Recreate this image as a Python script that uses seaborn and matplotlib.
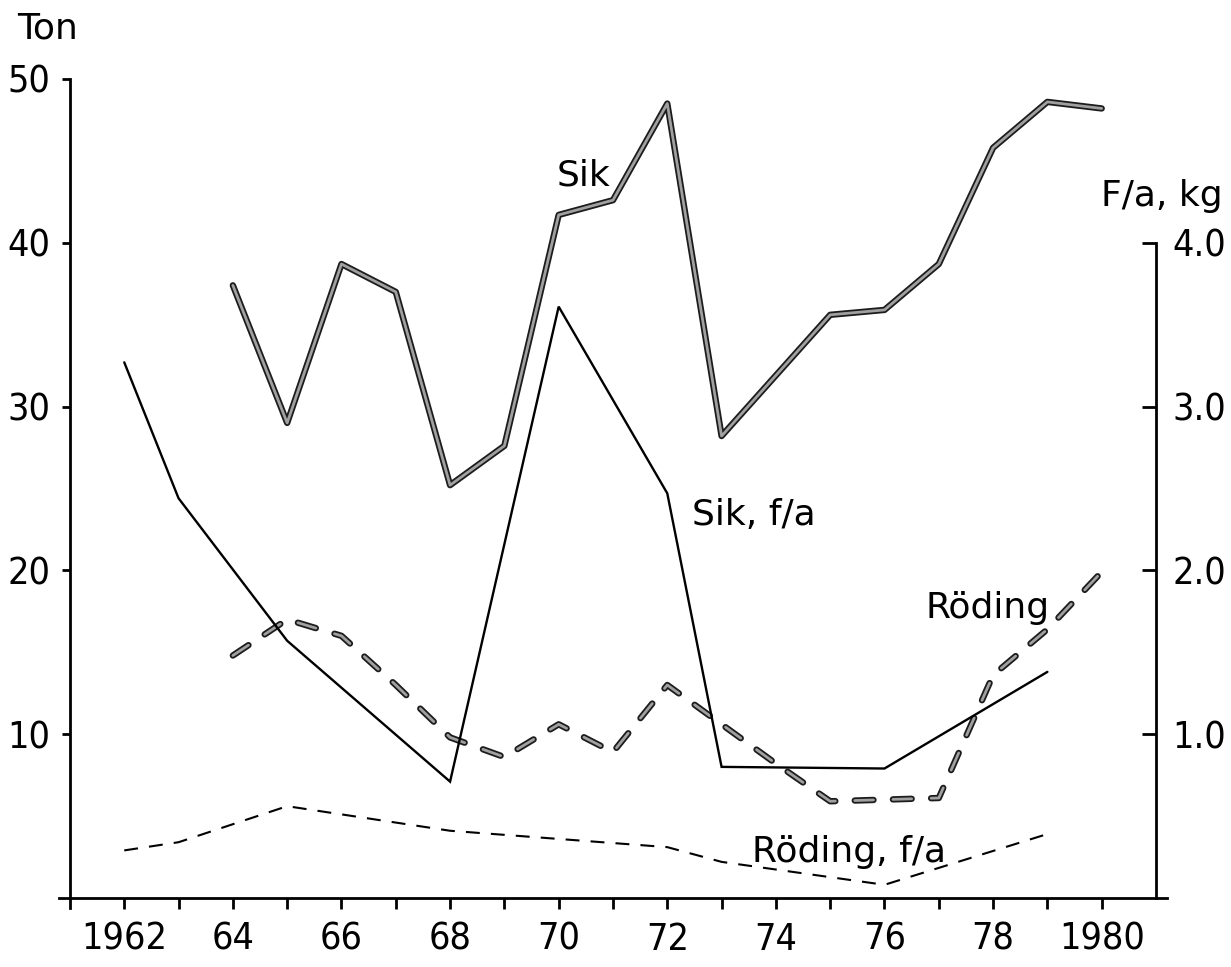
import matplotlib
matplotlib.use("Agg")
import matplotlib.pyplot as plt
import matplotlib.patheffects as pe
import pandas as pd
import seaborn as sns

# Annual catch (tonnes)
sik_years = [1964, 1965, 1966, 1967, 1968, 1969, 1970, 1971, 1972,
             1973, 1974, 1975, 1976, 1977, 1978, 1979, 1980]
sik_ton = [37.4, 29.0, 38.7, 37.0, 25.2, 27.6, 41.7, 42.6, 48.5,
           28.2, 31.9, 35.6, 35.9, 38.7, 45.8, 48.6, 48.2]

roding_years = [1964, 1965, 1966, 1967, 1968, 1969, 1970, 1971, 1972,
                1973, 1974, 1975, 1976, 1977, 1978, 1979, 1980]
roding_ton = [14.8, 17.0, 16.0, 13.0, 9.8, 8.6, 10.6, 8.9, 13.0,
              10.6, 8.2, 5.9, 6.0, 6.1, 13.6, 16.4, 19.9]

# Catch per fisherman-year (kg), survey years only
fa_years = [1962, 1963, 1965, 1968, 1970, 1972, 1973, 1976, 1979]
sik_fa_kg = [3.27, 2.44, 1.57, 0.71, 3.61, 2.47, 0.80, 0.79, 1.38]
roding_fa_kg = [0.29, 0.34, 0.56, 0.41, 0.36, 0.31, 0.22, 0.08, 0.39]

year_ticks = list(range(1962, 1981))
year_labels = ["1962", "", "64", "", "66", "", "68", "", "70", "", "72", "",
               "74", "", "76", "", "78", "", "1980"]
ton_ticks = [10, 20, 30, 40, 50]
kg_ticks = [1.0, 2.0, 3.0, 4.0]
kg_labels = ["1.0", "2.0", "3.0", "4.0"]

sns.set_style("white")
plt.rcParams["font.family"] = ["DejaVu Sans"]
plt.rcParams["lines.scale_dashes"] = False
plt.rcParams["text.color"] = "black"
plt.rcParams["xtick.color"] = "black"
plt.rcParams["ytick.color"] = "black"
plt.rcParams["xtick.labelcolor"] = "black"
plt.rcParams["ytick.labelcolor"] = "black"

TICK_FS = 27
TEXT_FS = 26
fig = plt.figure(figsize=(12.31, 9.67), dpi=100)
ax = fig.add_axes([0.048, 0.0579, 0.8999, 0.8689])
ax2 = ax.twinx()

sik_df = pd.DataFrame({"year": sik_years, "ton": sik_ton})
rod_df = pd.DataFrame({"year": roding_years, "ton": roding_ton})
fa_df = pd.DataFrame({"year": fa_years, "sik": sik_fa_kg, "roding": roding_fa_kg})

thick_fx = [pe.Stroke(linewidth=4.6, foreground="#1c1c1c"),
            pe.Stroke(linewidth=2.0, foreground="#a0a0a0")]

sns.lineplot(data=sik_df, x="year", y="ton", ax=ax, estimator=None,
             color="#555555", linewidth=4.6, solid_joinstyle="round",
             solid_capstyle="round", path_effects=thick_fx)
sns.lineplot(data=rod_df, x="year", y="ton", ax=ax, estimator=None,
             color="#555555", linewidth=4.6, linestyle=(0, (13.5, 14.0)),
             dash_capstyle="round", dash_joinstyle="round",
             path_effects=thick_fx)
sns.lineplot(data=fa_df, x="year", y="sik", ax=ax2, estimator=None,
             color="black", linewidth=1.7, solid_joinstyle="miter")
sns.lineplot(data=fa_df, x="year", y="roding", ax=ax2, estimator=None,
             color="black", linewidth=1.5, linestyle=(0, (10.0, 8.0)))

# Left axis (tonnes)
ax.set_xlim(1960.8, 1981.2)
ax.set_ylim(-0.8, 50.5)
ax.spines["left"].set_position(("data", 1961))
ax.spines["left"].set_bounds(-0.6, 50)
ax.spines["bottom"].set_position(("data", 0))
for s in ("top", "right"):
    ax.spines[s].set_visible(False)
for s in ("left", "bottom"):
    ax.spines[s].set_linewidth(2.0)
    ax.spines[s].set_color("black")
ax.set_yticks(ton_ticks)
ax.set_yticklabels([str(t) for t in ton_ticks], fontstretch="condensed")
ax.set_xticks(year_ticks)
ax.set_xticklabels(year_labels, fontstretch="condensed")
ax.tick_params(axis="y", direction="out", length=6, width=2, pad=8,
               labelsize=TICK_FS, left=True)
ax.tick_params(axis="x", direction="out", length=8, width=2, pad=9,
               labelsize=TICK_FS, bottom=True)
ax.set_xlabel("")
ax.set_ylabel("")

# Right axis (kg per fisherman-year)
ax2.set_ylim(-0.08, 5.05)
ax2.spines["right"].set_position(("data", 1981))
ax2.spines["right"].set_bounds(0, 4.0)
ax2.spines["right"].set_linewidth(2.0)
ax2.spines["right"].set_color("black")
for s in ("top", "left", "bottom"):
    ax2.spines[s].set_visible(False)
ax2.set_yticks(kg_ticks)
ax2.set_yticklabels(kg_labels, fontstretch="condensed")
ax2.tick_params(axis="y", direction="in", length=10, width=2, pad=12,
                labelsize=TICK_FS, right=True)
ax2.set_ylabel("")

# Axis titles
fig.text(0.039, 0.971, "Ton", fontsize=TEXT_FS, ha="center", va="center")
fig.text(0.944, 0.797, "F/a, kg", fontsize=TEXT_FS, ha="center", va="center")

# Series labels
ax.text(1970.45, 44.1, "Sik", fontsize=TEXT_FS, ha="center", va="center")
ax.text(1972.45, 23.4, "Sik, f/a", fontsize=TEXT_FS, ha="left", va="center")
ax.text(1977.9, 17.7, "Röding", fontsize=TEXT_FS, ha="center", va="center")
ax.text(1975.35, 2.8, "Röding, f/a", fontsize=TEXT_FS, ha="center", va="center")

fig.savefig("out.png", dpi=100, facecolor="white")
